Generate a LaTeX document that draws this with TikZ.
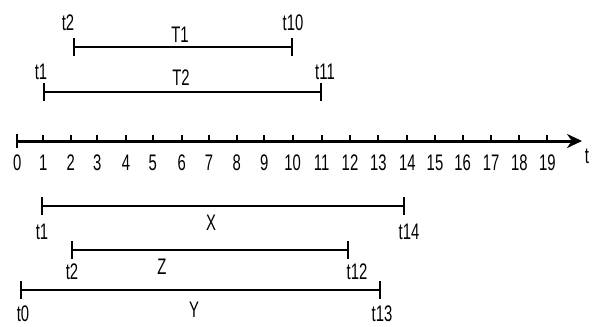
\documentclass[tikz,border=0pt]{standalone}
\usepackage{fontspec}
\setmainfont[FakeStretch=0.66]{Liberation Sans}
\usetikzlibrary{arrows.meta}

\begin{document}
\begin{tikzpicture}[x=1pt,y=-1pt,font=\fontsize{22.5}{22.5}\selectfont,
  span/.style={line width=2.2pt,{Bar[width=18pt]}-{Bar[width=18pt]}},
  lbl/.style={inner sep=0pt}]
  \useasboundingbox (0,0) rectangle (593,326);
  \fill[white] (0,0) rectangle (593,326);

  % Time axis with its ticks and numbers.
  \coordinate (O) at (17.3,141);
  \coordinate (E) at (582,141);
  \draw[line width=3pt,-{Stealth[length=15pt,width=14pt]}] (O) -- (E);
  \draw[line width=2.2pt] (17.3,134) -- (17.3,148);
  \foreach \i/\x in {0/17.3,1/43.3,2/70.7,3/97.3,4/126,5/152.7,6/181.7,
      7/209,8/236.7,9/264.3,10/292.7,11/321.7,12/350,13/378.3,14/407.3,
      15/435,16/462.7,17/491,18/519.3,19/547.3}{
    \draw[line width=2pt] (\x,135) -- (\x,141);
    \node[lbl] (n\i) at (\x,163) {\i};
  }
  \node[lbl] (tlbl) at (587,156) {t};

  % Intervals above and below the axis.
  \foreach \name/\xa/\xb/\y in {T1/73/293/46.7,T2/43/322/92,
      X/40.7/405/206,Z/71/349/250,Y/20/381/290}{
    \coordinate (\name a) at (\xa,\y);
    \coordinate (\name b) at (\xb,\y);
    \draw[span] (\name a) -- (\name b);
  }

  \node[lbl] (T1l) at (68,22.5) {t2};
  \node[lbl] (T1r) at (293,22.5) {t10};
  \node[lbl] (T1n) at (180,35) {T1};
  \node[lbl] (T2l) at (41,72) {t1};
  \node[lbl] (T2r) at (325,72) {t11};
  \node[lbl] (T2n) at (181,78) {T2};

  \node[lbl] (Xl) at (42,232) {t1};
  \node[lbl] (Xr) at (409,232) {t14};
  \node[lbl] (Xn) at (211,223) {X};
  \node[lbl] (Zl) at (72,272) {t2};
  \node[lbl] (Zr) at (357,272) {t12};
  \node[lbl] (Zn) at (162,267) {Z};
  \node[lbl] (Yl) at (23,314) {t0};
  \node[lbl] (Yr) at (382,314) {t13};
  \node[lbl] (Yn) at (194,310) {Y};
\end{tikzpicture}
\end{document}
